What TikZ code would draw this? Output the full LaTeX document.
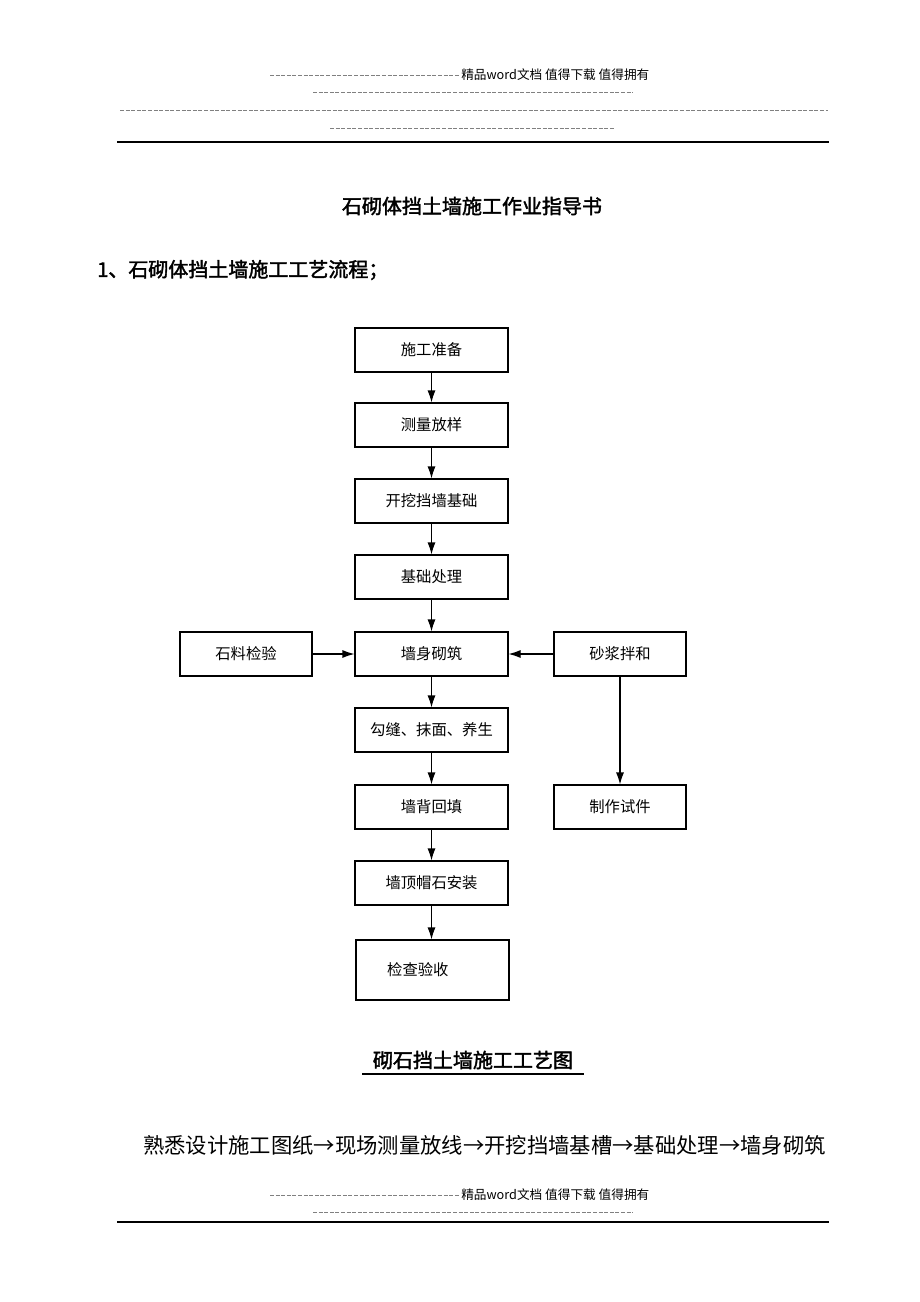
\documentclass[tikz,border=0pt]{standalone}
\usepackage{fontspec}
\setmainfont{Noto Sans CJK SC}
\newfontfamily\cjkbold[FakeBold=2]{Noto Sans CJK SC}
\usetikzlibrary{arrows.meta}

\begin{document}
\begin{tikzpicture}[x=0.75pt,y=0.75pt,yscale=-1,xscale=1,
    stepbox/.style={draw,line width=0.8pt,inner sep=0pt,minimum width=114.75pt,minimum height=33pt,font=\fontsize{11.5}{13}\selectfont},
    sidebox/.style={stepbox,minimum width=99pt},
    flow/.style={-{Latex[length=9pt,width=6pt]},line width=0.8pt},
    dashline/.style={gray,line width=0.6pt,dash pattern=on 3pt off 1.2pt}]
    \useasboundingbox (0,0) rectangle (920,1302);

    % header and footer
    \foreach \y in {0,1120}{
      \draw [dashline] (270,75+\y) -- (460,75+\y);
      \draw (461,75+\y) node [anchor=west,inner sep=0pt] {\fontsize{9.5}{11}\selectfont 精品word文档 值得下载 值得拥有};
      \draw [dashline] (313,92+\y) -- (633,92+\y);
    }
    \draw [dashline] (120,110) -- (828,110);
    \draw [dashline] (330,128) -- (615,128);
    \draw [line width=1pt] (117,142) -- (829,142);
    \draw [line width=1pt] (117,1222) -- (829,1222);

    % Text Node
    \draw (472,206) node {\cjkbold\fontsize{15}{18}\selectfont 石砌体挡土墙施工作业指导书};
    % Text Node
    \draw (97,270) node [anchor=west,inner sep=0pt] {\cjkbold\fontsize{15}{18}\selectfont 1、石砌体挡土墙施工工艺流程；};

    % boxes
    \node [stepbox] (prep) at (431.5,350) {施工准备};
    \node [stepbox] (survey) at (431.5,425) {测量放样};
    \node [stepbox] (dig) at (431.5,501) {开挖挡墙基础};
    \node [stepbox] (base) at (431.5,577) {基础处理};
    \node [stepbox] (wall) at (431.5,654) {墙身砌筑};
    \node [sidebox] (stone) at (246,654) {石料检验};
    \node [sidebox] (mortar) at (620,654) {砂浆拌和};
    \node [stepbox] (joint) at (431.5,730) {勾缝、抹面、养生};
    \node [stepbox] (fill) at (431.5,807) {墙背回填};
    \node [sidebox] (sample) at (620,807) {制作试件};
    \node [stepbox] (cap) at (431.5,883) {墙顶帽石安装};
    \node [stepbox,minimum height=45pt] (check) at (432.5,970) {\hspace*{-22pt}检查验收};

    % connectors
    \draw [flow] (prep) -- (survey);
    \draw [flow] (survey) -- (dig);
    \draw [flow] (dig) -- (base);
    \draw [flow] (base) -- (wall);
    \draw [flow] (wall) -- (joint);
    \draw [flow] (joint) -- (fill);
    \draw [flow] (fill) -- (cap);
    \draw [flow] (cap.south) -- (cap.south |- check.north);
    \draw [flow] (stone) -- (wall);
    \draw [flow] (mortar) -- (wall);
    \draw [flow] (mortar) -- (sample);

    % Text Node
    \draw (473,1060) node [inner sep=0pt] (caption) {\cjkbold\fontsize{15}{18}\selectfont 砌石挡土墙施工工艺图};
    \draw [line width=0.8pt] (362,1074) -- (584,1074);
    % Text Node
    \draw (143,1145) node [anchor=west,inner sep=0pt] {\fontsize{16}{19}\selectfont 熟悉设计施工图纸→现场测量放线→开挖挡墙基槽→基础处理→墙身砌筑};
\end{tikzpicture}
\end{document}
